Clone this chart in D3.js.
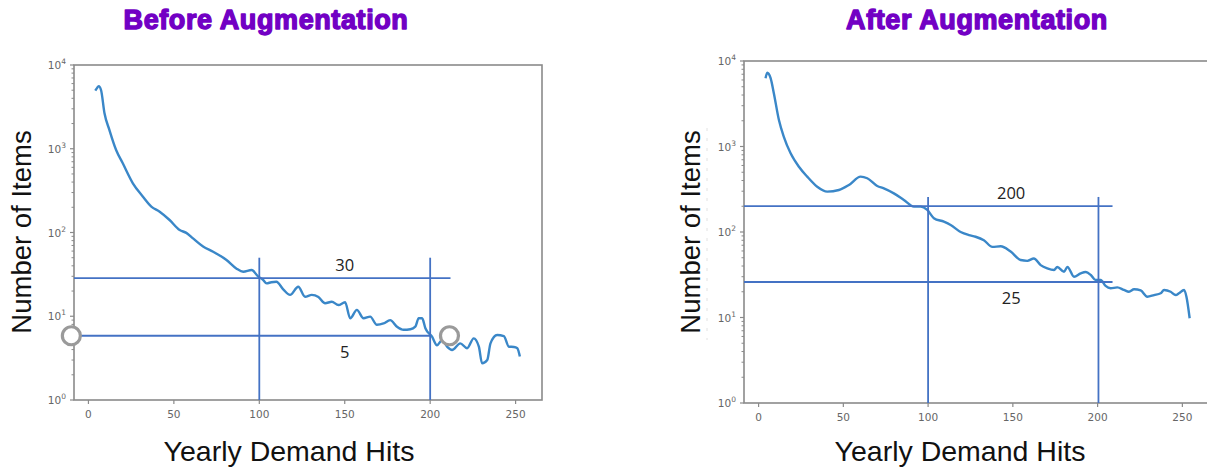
<!DOCTYPE html>
<html>
<head>
<meta charset="utf-8">
<script src="https://cdn.jsdelivr.net/npm/d3@7"></script>
<style>
  html, body { margin: 0; padding: 0; background: #fff; }
  svg { display: block; }
</style>
</head>
<body>
<svg id="chart" width="1207" height="469"></svg>
<script>
// ---------- DATA ----------
const beforeX = [4,5,6,7.4,9.4,12.3,16.2,20.1,26,31.9,36.8,41.7,47.5,53.4,57.3,61.2,67.1,73,80.8,86.7,90.6,95.5,99.4,102,104.3,107,110,114,118,122.8,126.8,130.7,134.6,138.5,142.4,146.3,150.2,153.2,157.1,161,164.9,168.8,172.7,176.6,180.6,184.4,188.4,191.3,193.3,195.3,197.2,201.1,204,207,210,212.8,217.6,221.6,225.5,228.5,230.4,233.4,235.3,239.2,243.1,246.1,249,251,252.5];
const beforeY = [4930,5300,5600,5000,2650,1670,966,670,387,268,204,177,141,107,99,85,68,59,47,37,34,35.7,29.7,27.5,24.7,25.5,25.8,21,18,22.5,17.1,18,17,14.3,14.9,13.6,14.7,9.45,11.9,9.45,9.9,7.9,8.2,9.0,7.5,6.9,7.0,7.5,9.45,9.45,7.2,5.7,4.5,5.2,4.3,3.95,4.75,4.15,5.45,4.33,2.74,3.0,4.75,5.97,5.8,4.33,4.3,4.15,3.3];

const afterX = [4.1,5.1,7.1,9,12,14.9,18.9,23.8,28.7,34.6,40.5,47.4,53.3,60.2,64.1,70,73.9,79.8,85.7,91.6,95.6,99.5,103.4,109.3,113.3,119.2,124.1,128,132.9,137.9,142.8,148.7,154.6,158.5,162.4,166.4,170.3,174.3,176.2,180.2,182.2,186.1,190,193,196,198.8,201.8,204.7,207.7,211.6,215.5,218.5,221.5,225.4,229.3,233.3,237.2,239.2,243.1,246.1,248,251,252.4,254.3];
const afterY = [6270,7300,6300,4200,2040,1300,834,580,444,339,297,310,355,444,425,345,324,283,237,198,198,181,145,132,121,100,92,88,80,67,68,59,47,46,49,41,37.6,36,39,34.3,39,30,32.8,34,31.4,27.5,27.5,23.4,22,22.5,21,20,21.4,20.7,17.5,18.3,19.2,21,20,18.3,19.2,21,17.5,9.8];

const xTickValues = [0, 50, 100, 150, 200, 250];
const yTickExponents = [0, 1, 2, 3, 4];

const titles = ["Before Augmentation", "After Augmentation"];
const xLabel = "Yearly Demand Hits";
const yLabel = "Number of Items";

// annotation guides (data units)
const beforeHLines = [28.6, 5.85];
const beforeHLineEnds = [211.9, 200.5];
const beforeHLabels = ["30", "5"];
const beforeVLines = [100, 200];
const beforeVTop = 50;
const beforeCircles = [[-10, 5.85], [211.3, 5.85]];

const afterHLines = [201, 26];
const afterHLineEnds = [208.8, 208.8];
const afterHLabels = ["200", "25"];
const afterVLines = [100, 200.5];
const afterVTop = 257;

// ---------- DRAW ----------
const svg = d3.select("#chart");
const lineColor = "#3a87c8";
const guideColor = "#4472c4";
const spineColor = "#8a8a8a";

function drawPanel(cfg) {
  const x = d3.scaleLinear().domain(cfg.xDomain).range([cfg.left, cfg.right]);
  const y = d3.scaleLog().domain([1, 10000]).range([cfg.bottom, cfg.top]);
  const g = svg.append("g");

  // spines (box)
  g.append("rect")
    .attr("x", cfg.left).attr("y", cfg.top)
    .attr("width", cfg.right - cfg.left).attr("height", cfg.bottom - cfg.top)
    .attr("fill", "none").attr("stroke", spineColor).attr("stroke-width", 1.6);

  // y ticks
  const minor = [];
  for (let e = 0; e < 4; e++) for (let m = 2; m <= 9; m++) minor.push(m * Math.pow(10, e));
  g.selectAll(".ymin").data(minor).join("line")
    .attr("x1", cfg.left - 2.5).attr("x2", cfg.left)
    .attr("y1", d => y(d)).attr("y2", d => y(d))
    .attr("stroke", spineColor).attr("stroke-width", 1);
  g.selectAll(".ymaj").data(yTickExponents).join("line")
    .attr("x1", cfg.left - 4).attr("x2", cfg.left)
    .attr("y1", d => y(Math.pow(10, d))).attr("y2", d => y(Math.pow(10, d)))
    .attr("stroke", spineColor).attr("stroke-width", 1.2);
  const yl = g.selectAll(".ylab").data(yTickExponents).join("text")
    .attr("x", cfg.left - 8).attr("y", d => y(Math.pow(10, d)) + 4)
    .attr("text-anchor", "end")
    .attr("font-family", "DejaVu Sans, sans-serif").attr("font-size", 10.5)
    .attr("fill", "#666");
  yl.append("tspan").text("10");
  yl.append("tspan").attr("dy", -5).attr("font-size", 7.5).text(d => d);

  // x ticks
  g.selectAll(".xt").data(xTickValues).join("line")
    .attr("x1", d => x(d)).attr("x2", d => x(d))
    .attr("y1", cfg.bottom).attr("y2", cfg.bottom + 4)
    .attr("stroke", spineColor).attr("stroke-width", 1.2);
  g.selectAll(".xl").data(xTickValues).join("text")
    .attr("x", d => x(d)).attr("y", cfg.bottom + 18)
    .attr("text-anchor", "middle")
    .attr("font-family", "DejaVu Sans, sans-serif").attr("font-size", 10.5)
    .attr("fill", "#666").text(d => d);

  // data line
  const pts = cfg.xs.map((d, i) => [d, cfg.ys[i]]);
  g.append("path").datum(pts)
    .attr("d", d3.line().x(d => x(d[0])).y(d => y(d[1])).curve(d3.curveMonotoneX))
    .attr("fill", "none").attr("stroke", lineColor).attr("stroke-width", 2.4)
    .attr("stroke-linejoin", "round");

  // guides
  cfg.hLines.forEach((v, i) => {
    g.append("line")
      .attr("x1", cfg.left).attr("x2", x(cfg.hEnds[i]))
      .attr("y1", y(v)).attr("y2", y(v))
      .attr("stroke", guideColor).attr("stroke-width", 1.8);
  });
  cfg.vLines.forEach(v => {
    g.append("line")
      .attr("x1", x(v)).attr("x2", x(v))
      .attr("y1", y(cfg.vTop)).attr("y2", cfg.bottom)
      .attr("stroke", guideColor).attr("stroke-width", 1.8);
  });
  cfg.hLabels.forEach((t, i) => {
    const yy = y(cfg.hLines[i]);
    g.append("text")
      .attr("x", x(cfg.labelX)).attr("y", i === 0 ? yy - 7 : yy + 22)
      .attr("text-anchor", "middle")
      .attr("font-family", "Open Sans, Liberation Sans, sans-serif").attr("font-size", 16.5)
      .attr("fill", "#222").text(t);
  });
  (cfg.circles || []).forEach(c => {
    g.append("circle")
      .attr("cx", x(c[0])).attr("cy", y(c[1])).attr("r", 9)
      .attr("fill", "#fff").attr("stroke", "#9a9a9a").attr("stroke-width", 3.2);
  });

  // titles and labels
  svg.append("text")
    .attr("x", cfg.titleX).attr("y", 29)
    .attr("text-anchor", "middle")
    .attr("font-family", "Liberation Sans, Arial, sans-serif").attr("font-weight", 900)
    .attr("font-size", 27).attr("letter-spacing", 0.6).attr("fill", "#7200c4")
    .attr("stroke", "#7200c4").attr("stroke-width", 1.4).attr("stroke-linejoin", "round")
    .text(cfg.title);
  svg.append("text")
    .attr("x", cfg.xLabelX).attr("y", 461)
    .attr("text-anchor", "middle")
    .attr("font-family", "Liberation Sans, Arial, sans-serif")
    .attr("font-size", 28.5).attr("fill", "#111")
    .text(xLabel);
  svg.append("text")
    .attr("transform", `translate(${cfg.yLabelX},232) rotate(-90)`)
    .attr("text-anchor", "middle")
    .attr("font-family", "Liberation Sans, Arial, sans-serif")
    .attr("font-size", 27.5).attr("fill", "#111")
    .text(yLabel);
}

drawPanel({
  left: 74, right: 542, top: 65, bottom: 400,
  xDomain: [-8.45, 265.45],
  xs: beforeX, ys: beforeY,
  hLines: beforeHLines, hEnds: beforeHLineEnds, hLabels: beforeHLabels, labelX: 150,
  vLines: beforeVLines, vTop: beforeVTop, circles: beforeCircles,
  title: titles[0], titleX: 266, xLabelX: 289, yLabelX: 31
});

// faint dashed artifact on right panel
svg.append("line")
  .attr("x1", 707).attr("x2", 707).attr("y1", 128).attr("y2", 340)
  .attr("stroke", "#e2e2e2").attr("stroke-width", 1).attr("stroke-dasharray", "3,7");

drawPanel({
  left: 744, right: 1213.9, top: 61, bottom: 403,
  xDomain: [-8.6, 268.6],
  xs: afterX, ys: afterY,
  hLines: afterHLines, hEnds: afterHLineEnds, hLabels: afterHLabels, labelX: 149,
  vLines: afterVLines, vTop: afterVTop,
  title: titles[1], titleX: 977, xLabelX: 960, yLabelX: 700
});
</script>
</body>
</html>
